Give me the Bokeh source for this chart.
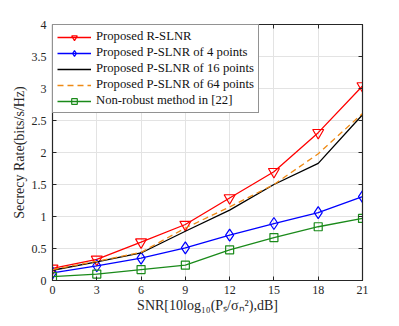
from bokeh.plotting import figure
from bokeh.embed import file_html
from bokeh.resources import INLINE
from bokeh.models import LinearAxis, FixedTicker, CustomLabelingPolicy

snr = [0, 3, 6, 9, 12, 15, 18, 21]
r_slnr = [0.19, 0.33, 0.60, 0.875, 1.29, 1.70, 2.31, 3.04]
p4 = [0.12, 0.23, 0.35, 0.51, 0.71, 0.89, 1.06, 1.31]
p16 = [0.16, 0.29, 0.43, 0.77, 1.10, 1.50, 1.83, 2.59]
p64 = [0.17, 0.30, 0.44, 0.82, 1.15, 1.50, 1.98, 2.61]
nonrobust = [0.06, 0.10, 0.17, 0.24, 0.48, 0.67, 0.84, 0.97]
x_ticks = [0, 3, 6, 9, 12, 15, 18, 21]
y_ticks = [0, 0.5, 1, 1.5, 2, 2.5, 3, 3.5, 4]

FONT = "Liberation Serif"
AX = "#262626"

p = figure(frame_width=310, frame_height=256, output_backend="svg", toolbar_location=None,
           x_range=(0, 21), y_range=(0, 4),
           min_border_left=52, min_border_right=36, min_border_top=24, min_border_bottom=45)
p.outline_line_color = AX
p.outline_line_width = 1.2

for ax in (p.xaxis[0], p.yaxis[0]):
    ax.axis_line_color = AX
    ax.major_tick_in = 4
    ax.major_tick_out = 0
    ax.minor_tick_line_color = None
    ax.major_tick_line_color = AX
    ax.major_label_text_font = FONT
    ax.major_label_text_font_size = "12px"
    ax.major_label_text_color = AX
    ax.axis_label_text_font = FONT
    ax.axis_label_text_font_size = "14px"
    ax.axis_label_text_font_style = "normal"
    ax.axis_label_text_color = AX

p.xaxis.ticker = FixedTicker(ticks=x_ticks)
p.yaxis.ticker = FixedTicker(ticks=y_ticks)
p.yaxis.major_label_overrides = {0: "0", 1: "1", 2: "2", 3: "3", 4: "4"}
p.xaxis.axis_label = "SNR[10log\u2081\u2080(P\u209b/\u03c3\u2099\u00b2),dB]"
p.yaxis.axis_label = "Secrecy Rate(bits/s/Hz)"
p.xaxis.major_label_standoff = 5
p.yaxis.major_label_standoff = 6
p.xaxis.axis_label_standoff = 1
p.yaxis.axis_label_standoff = 2

no_labels = CustomLabelingPolicy(code="return new indices.constructor(indices.size);")
top = LinearAxis(ticker=FixedTicker(ticks=x_ticks), major_tick_in=4, major_tick_out=0,
                 major_label_policy=no_labels, major_label_standoff=0,
                 minor_tick_line_color=None, axis_line_color=AX, major_tick_line_color=AX)
right = LinearAxis(ticker=FixedTicker(ticks=y_ticks), major_tick_in=4, major_tick_out=0,
                   major_label_policy=no_labels, major_label_standoff=0,
                   minor_tick_line_color=None, axis_line_color=AX, major_tick_line_color=AX)
p.add_layout(top, "above")
p.add_layout(right, "right")

p.xgrid.ticker = FixedTicker(ticks=x_ticks)
p.ygrid.ticker = FixedTicker(ticks=y_ticks)
p.grid.grid_line_color = "#e3e3e3"
p.grid.grid_line_width = 1

p.line(snr, r_slnr, color="red", line_width=1.3, legend_label="Proposed R-SLNR")
p.scatter(snr, r_slnr, marker="inverted_triangle", size=11, line_color="red", fill_color=None,
          line_width=1.2, legend_label="Proposed R-SLNR")
p.line(snr, p4, color="blue", line_width=1.3, legend_label="Proposed P-SLNR of 4 points")
p.scatter(snr, p4, marker="diamond", size=12, line_color="blue", fill_color=None,
          line_width=1.2, legend_label="Proposed P-SLNR of 4 points")
p.line(snr, p16, color="black", line_width=1.3, legend_label="Proposed P-SLNR of 16 points")
p.line(snr, p64, color="#ee8a14", line_width=1.3, line_dash="6 4",
       legend_label="Proposed P-SLNR of 64 points")
p.line(snr, nonrobust, color="#1a8a1a", line_width=1.3, legend_label="Non-robust method in [22]")
p.scatter(snr, nonrobust, marker="square", size=8, line_color="#1a8a1a", fill_color=None,
          line_width=1.2, legend_label="Non-robust method in [22]")

lg = p.legend[0]
lg.location = "top_left"
lg.margin = 0
lg.padding = 4
lg.spacing = 1
lg.label_text_font = FONT
lg.label_text_font_size = "12.7px"
lg.label_text_color = "#111111"
lg.label_height = 14
lg.glyph_height = 14
lg.glyph_width = 34
lg.label_standoff = 5
lg.border_line_color = AX
lg.border_line_width = 1.2
lg.background_fill_alpha = 1

open("out.html", "w").write(file_html(p, INLINE))
